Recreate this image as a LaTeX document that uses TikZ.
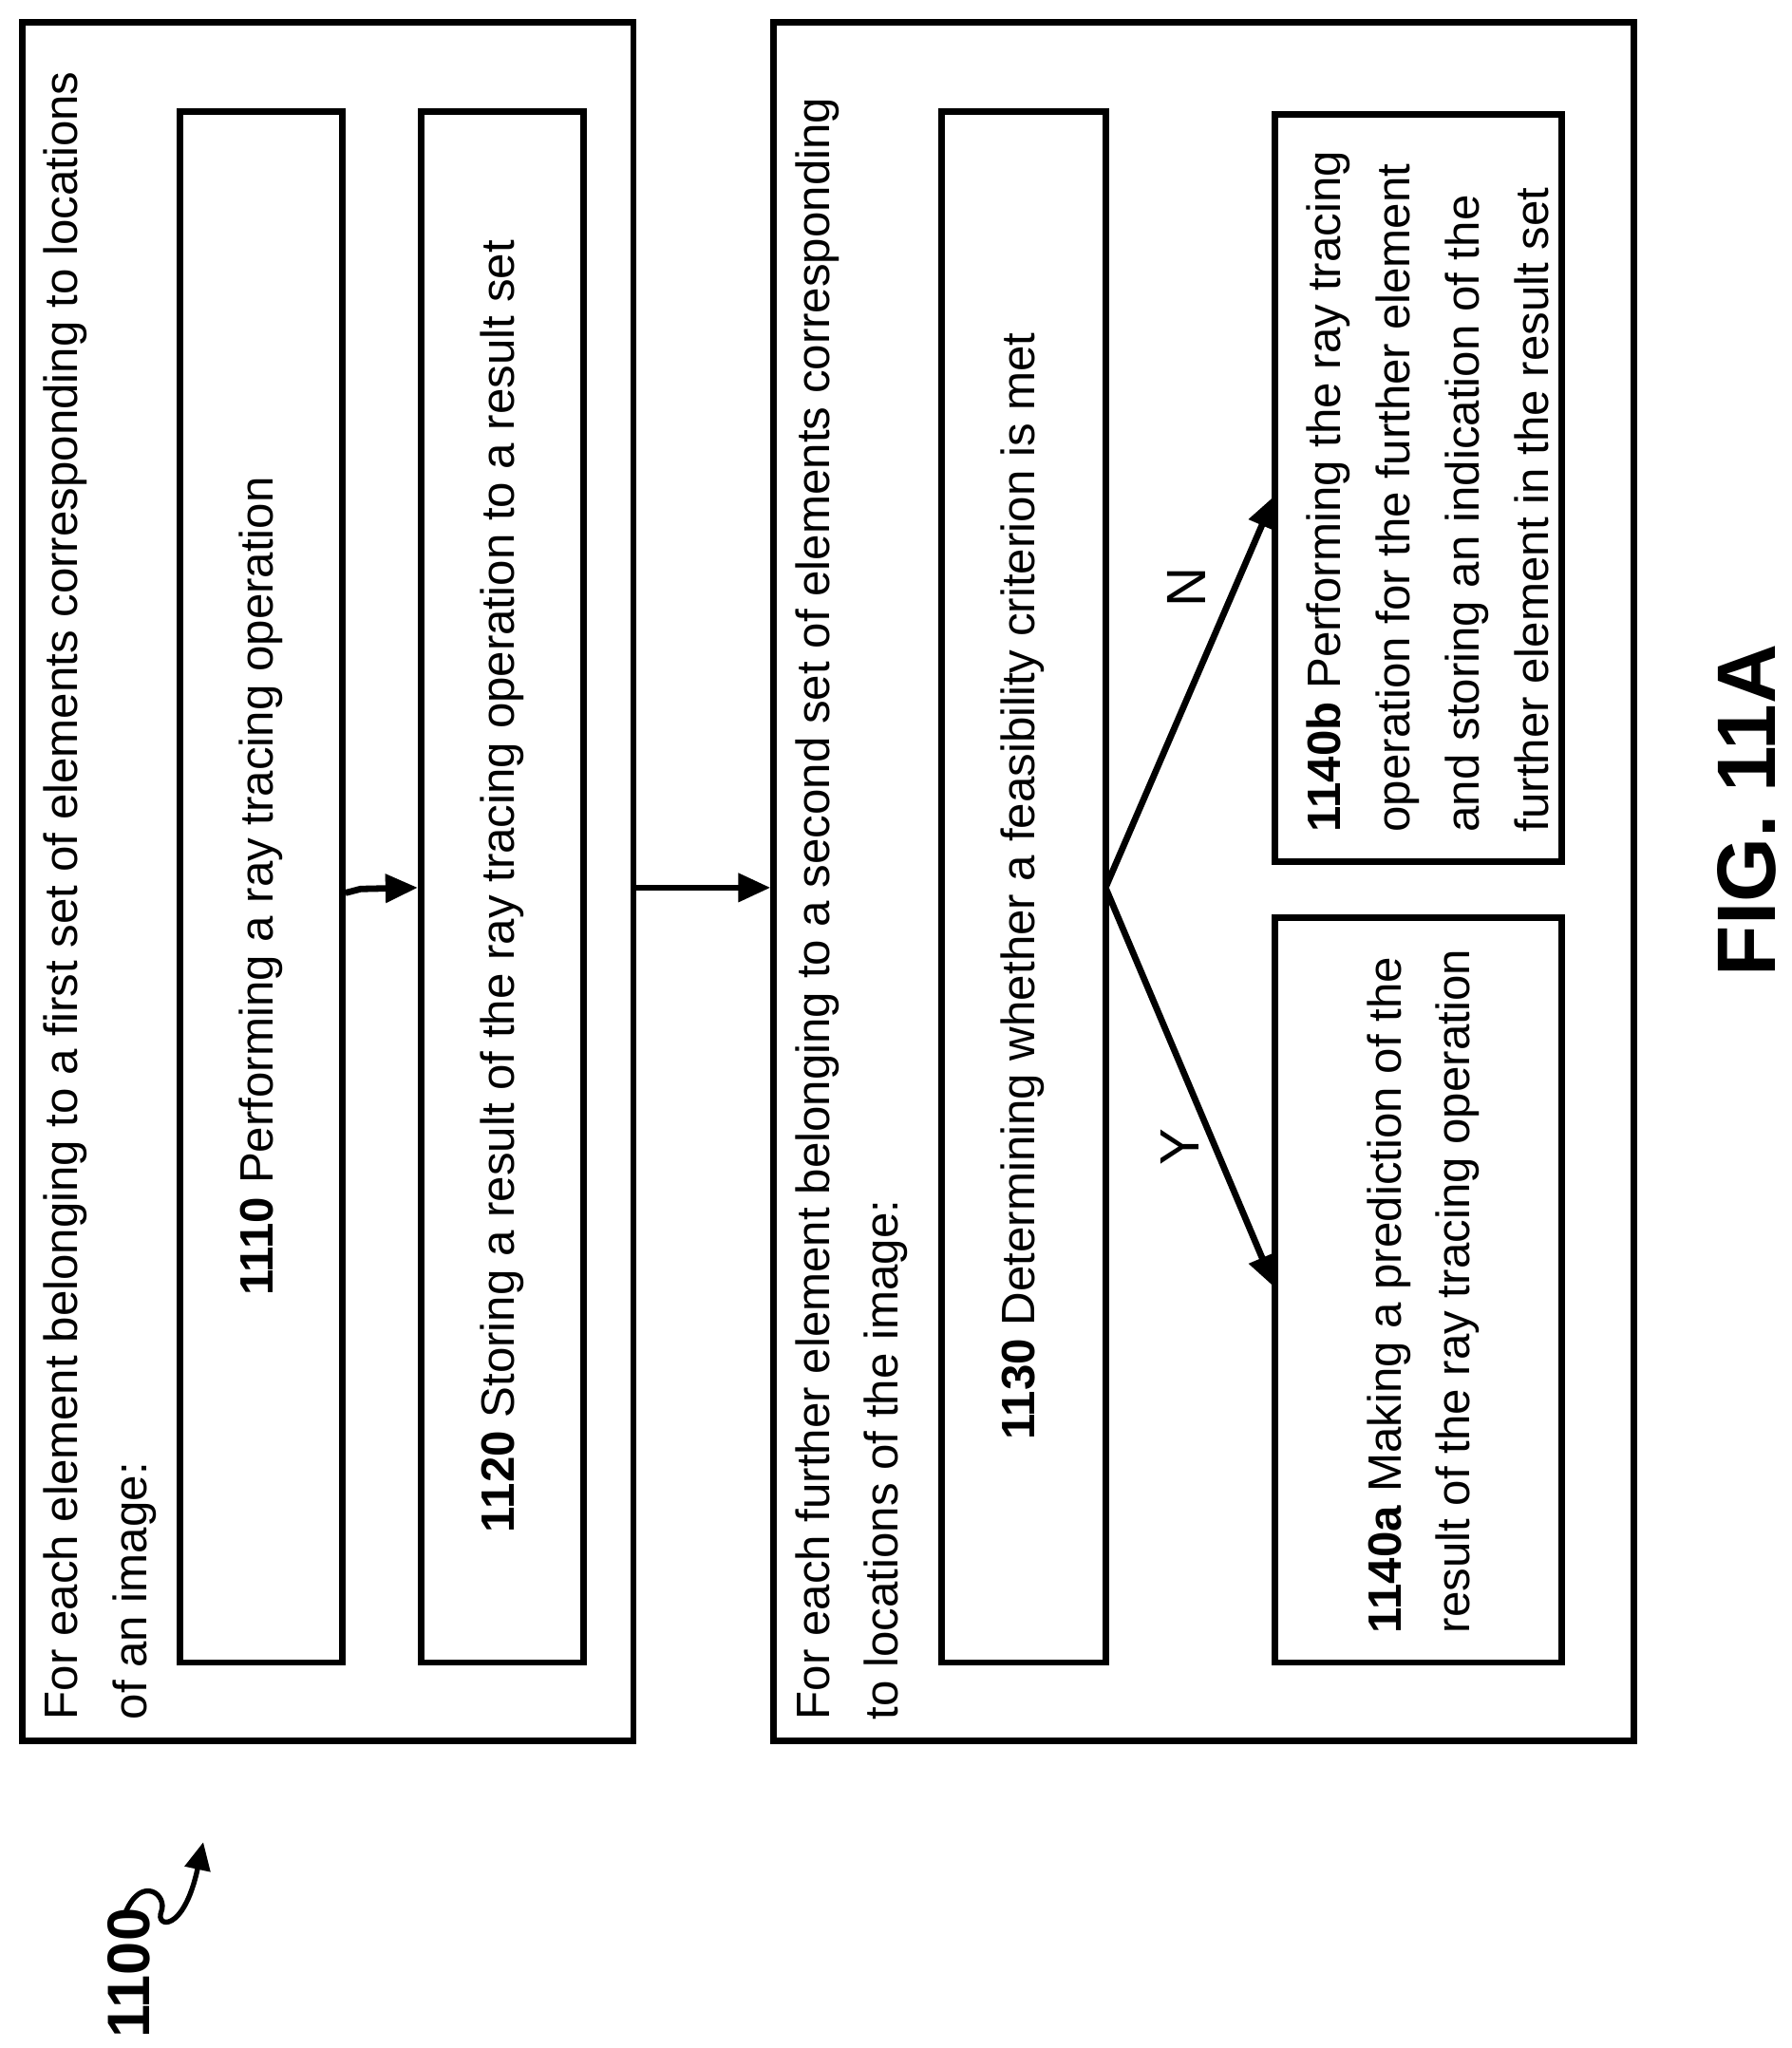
\documentclass[tikz,border=0pt]{standalone}
\usepackage{fontspec}
\setmainfont{Liberation Sans}
\usetikzlibrary{arrows.meta}
\begin{document}
\begin{tikzpicture}[x=0.2mm,y=-0.2mm,
  bx/.style={draw,line width=2.8pt},
  ar/.style={line width=2.8pt,-{Triangle[length=14pt,width=12pt]}},
  tx/.style={rotate=90,font=\fontsize{20.3}{30}\selectfont,inner sep=0pt}]
\useasboundingbox (0,0) rectangle (1366,1562);
\node[bx,minimum width=466*0.2mm,minimum height=1311*0.2mm] (g1) at (250,672.5) {};
\node[bx,minimum width=656*0.2mm,minimum height=1311*0.2mm] (g2) at (918,672.5) {};
\node[bx,minimum width=124*0.2mm,minimum height=1183*0.2mm] (b1110) at (199,676.5) {};
\node[bx,minimum width=124*0.2mm,minimum height=1183*0.2mm] (b1120) at (383,676.5) {};
\node[bx,minimum width=125*0.2mm,minimum height=1183*0.2mm] (b1130) at (780.5,676.5) {};
\node[bx,minimum width=219*0.2mm,minimum height=570*0.2mm] (b1140b) at (1081.5,372) {};
\node[bx,minimum width=219*0.2mm,minimum height=568*0.2mm] (b1140a) at (1081.5,984) {};
\node[tx,anchor=north west,align=left] (h1) at (33,1312) {For each element belonging to a first set of elements corresponding to locations\\of an image:};
\node[tx,anchor=north west,align=left] (h2) at (606,1312) {For each further element belonging to a second set of elements corresponding\\to locations of the image:};
\node[tx] (t1110) at (199,676) {\textbf{1110} Performing a ray tracing operation};
\node[tx] (t1120) at (383,676) {\textbf{1120} Storing a result of the ray tracing operation to a result set};
\node[tx] (t1130) at (780,676) {\textbf{1130} Determining whether a feasibility criterion is met};
\node[tx,anchor=north west,align=left] (t1140b) at (996,635) {\textbf{1140b} Performing the ray tracing\\operation for the further element\\and storing an indication of the\\further element in the result set};
\node[tx,anchor=north west,align=left] (t1140a) at (1042,1246) {\textbf{1140a} Making a prediction of the\\result of the ray tracing operation};
\coordinate (s1) at (843,677);
\draw[ar] (b1110.east |- 0,681) -- (275,678) -- (b1120.west |- 0,677);
\draw[ar] (g1.east |- 0,677) -- (g2.west |- 0,677);
\draw[ar] (s1) -- (972,378);
\node[tx,font=\fontsize{24}{24}\selectfont] (Nl) at (905,448) {N};
\draw[ar] (s1) -- (972,982);
\node[tx,font=\fontsize{24}{24}\selectfont] (Yl) at (900,875) {Y};
\node[tx,font=\fontsize{26}{26}\selectfont\bfseries] (l1100) at (98,1505) {1100};
\draw[line width=2.2pt,-{Triangle[length=12pt,width=11pt]}] (96,1458) .. controls (108,1430) and (128,1445) .. (123,1458) .. controls (118,1470) and (140,1475) .. (155,1405);
\node[tx,font=\fontsize{36}{36}\selectfont\bfseries] (fig) at (1332,618) {FIG. 11A};
\end{tikzpicture}
\end{document}
